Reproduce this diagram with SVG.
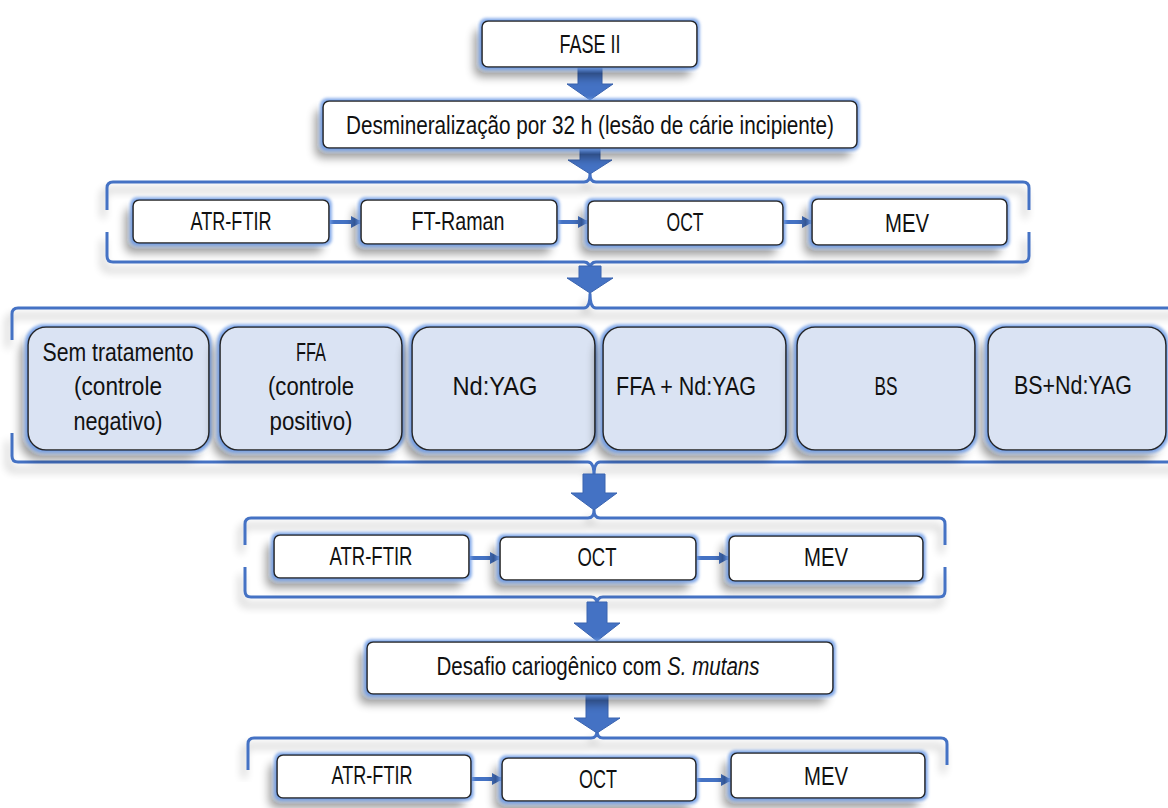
<svg xmlns="http://www.w3.org/2000/svg" width="1168" height="808" viewBox="0 0 1168 808">
<defs>
<style>
.box{fill:#fff;stroke:#262626;stroke-width:1.6}
.grp{fill:#dae3f3;stroke:#262626;stroke-width:1.6}
.t{font-family:"Liberation Sans",Arial,sans-serif;font-size:26px;fill:#111;text-anchor:middle}
.br{fill:none;stroke:#4472c4;stroke-width:3;stroke-linejoin:round}
.blk{fill:#4472c4;stroke:#3a64b0;stroke-width:1}
.con{stroke:#4472c4;stroke-width:4;fill:none}
</style>
<filter id="sh" x="-20%" y="-40%" width="140%" height="190%">
<feGaussianBlur in="SourceAlpha" stdDeviation="5" result="b"/>
<feOffset in="b" dx="-7" dy="9" result="o"/>
<feComponentTransfer in="o" result="s"><feFuncA type="linear" slope="0.4"/></feComponentTransfer>
<feMorphology in="SourceAlpha" operator="dilate" radius="2" result="d"/>
<feGaussianBlur in="d" stdDeviation="1.8" result="db"/>
<feFlood flood-color="#6d9be6" flood-opacity="0.85"/>
<feComposite in2="db" operator="in" result="glow"/>
<feMerge><feMergeNode in="s"/><feMergeNode in="glow"/><feMergeNode in="SourceGraphic"/></feMerge>
</filter>
<filter id="bsh" x="-5%" y="-20%" width="110%" height="150%">
<feGaussianBlur in="SourceAlpha" stdDeviation="4" result="b"/>
<feOffset in="b" dx="-4" dy="8" result="o"/>
<feComponentTransfer in="o" result="s"><feFuncA type="linear" slope="0.3"/></feComponentTransfer>
<feMerge><feMergeNode in="s"/><feMergeNode in="SourceGraphic"/></feMerge>
</filter>
<marker id="ah" markerUnits="userSpaceOnUse" markerWidth="11" markerHeight="12" refX="10" refY="6" orient="auto">
<path d="M0,0 L11,6 L0,12 z" fill="#4472c4"/>
</marker>
</defs>

<g id="brackets">
<path class="br" filter="url(#bsh)" d="M107,210 V188 Q107,182 113,182 H584 Q590,182 590,174 Q590,182 596,182 H1023 Q1029,182 1029,188 V210 M107,232 V256 Q107,262 113,262 H584 Q590,262 590,270 Q590,262 596,262 H1023 Q1029,262 1029,256 V232"/>
<path class="br" filter="url(#bsh)" d="M12,340 V314 Q12,308 18,308 H584 Q590,308 590,294 Q590,308 596,308 H1180 M12,433 V456 Q12,462 18,462 H588 Q594,462 594,476 Q594,462 600,462 H1180"/>
<path class="br" filter="url(#bsh)" d="M245,545 V524 Q245,518 251,518 H588 Q594,518 594,510 Q594,518 600,518 H939 Q945,518 945,524 V545 M245,567 V591 Q245,597 251,597 H591 Q597,597 597,604 Q597,597 603,597 H939 Q945,597 945,591 V567"/>
<path class="br" filter="url(#bsh)" d="M248,770 V744 Q248,738 254,738 H591 Q597,738 597,731 Q597,738 603,738 H941 Q947,738 947,744 V765"/>
</g>

<g id="connectors">
<polygon class="blk" points="578,68 602,68 602,84 613,84 590,100 567,84 578,84"/>
<polygon class="blk" points="580,149 600,149 600,160 612,160 590,174 568,160 580,160"/>
<polygon class="blk" points="579,266 601,266 601,278 613,278 590,293 567,278 579,278"/>
<polygon class="blk" points="583,474 605,474 605,493 617,493 594,510 571,493 583,493"/>
<polygon class="blk" points="587,602 607,602 607,623 620,623 597,641 574,623 587,623"/>
<polygon class="blk" points="586,695 608,695 608,718 620,718 597,733 574,718 586,718"/>
<line class="con" x1="330" y1="222" x2="361" y2="222" marker-end="url(#ah)"/>
<line class="con" x1="558" y1="222" x2="588" y2="222" marker-end="url(#ah)"/>
<line class="con" x1="784" y1="222" x2="812" y2="222" marker-end="url(#ah)"/>
<line class="con" x1="470" y1="558" x2="500" y2="558" marker-end="url(#ah)"/>
<line class="con" x1="697" y1="558" x2="729" y2="558" marker-end="url(#ah)"/>
<line class="con" x1="472" y1="779" x2="502" y2="779" marker-end="url(#ah)"/>
<line class="con" x1="697" y1="780" x2="731" y2="780" marker-end="url(#ah)"/>
</g>

<g id="fase2"><rect class="box" filter="url(#sh)" x="482" y="21" width="215" height="46" rx="6"/><text class="t" x="590" y="53" textLength="61" lengthAdjust="spacingAndGlyphs">FASE II</text></g>
<g id="desmin"><rect class="box" filter="url(#sh)" x="323" y="101" width="534" height="47" rx="6"/><text class="t" x="590" y="134" textLength="488" lengthAdjust="spacingAndGlyphs">Desmineralização por 32 h (lesão de cárie incipiente)</text></g>

<g id="b1-atr"><rect class="box" filter="url(#sh)" x="133" y="200" width="196" height="43" rx="6"/><text class="t" x="231" y="230" textLength="81" lengthAdjust="spacingAndGlyphs">ATR-FTIR</text></g>
<g id="b1-ftraman"><rect class="box" filter="url(#sh)" x="361" y="200" width="196" height="44" rx="6"/><text class="t" x="458" y="230" textLength="93" lengthAdjust="spacingAndGlyphs">FT-Raman</text></g>
<g id="b1-oct"><rect class="box" filter="url(#sh)" x="588" y="201" width="195" height="44" rx="6"/><text class="t" x="685" y="231" textLength="37" lengthAdjust="spacingAndGlyphs">OCT</text></g>
<g id="b1-mev"><rect class="box" filter="url(#sh)" x="812" y="199" width="195" height="46" rx="6"/><text class="t" x="907" y="232" textLength="44" lengthAdjust="spacingAndGlyphs">MEV</text></g>

<g id="g-sem"><rect class="grp" filter="url(#sh)" x="28" y="327" width="181" height="123" rx="18"/><text class="t" x="118" y="361" textLength="151" lengthAdjust="spacingAndGlyphs">Sem tratamento</text><text class="t" x="118" y="395" textLength="88" lengthAdjust="spacingAndGlyphs">(controle</text><text class="t" x="118" y="430" textLength="89" lengthAdjust="spacingAndGlyphs">negativo)</text></g>
<g id="g-ffa"><rect class="grp" filter="url(#sh)" x="220" y="327" width="182" height="123" rx="18"/><text class="t" x="311" y="361" textLength="30" lengthAdjust="spacingAndGlyphs">FFA</text><text class="t" x="311" y="395" textLength="86" lengthAdjust="spacingAndGlyphs">(controle</text><text class="t" x="311" y="430" textLength="83" lengthAdjust="spacingAndGlyphs">positivo)</text></g>
<g id="g-ndyag"><rect class="grp" filter="url(#sh)" x="412" y="327" width="183" height="123" rx="18"/><text class="t" x="495" y="395" textLength="85" lengthAdjust="spacingAndGlyphs">Nd:YAG</text></g>
<g id="g-ffandyag"><rect class="grp" filter="url(#sh)" x="603" y="327" width="183" height="123" rx="18"/><text class="t" x="686" y="395" textLength="140" lengthAdjust="spacingAndGlyphs">FFA + Nd:YAG</text></g>
<g id="g-bs"><rect class="grp" filter="url(#sh)" x="797" y="327" width="178" height="123" rx="18"/><text class="t" x="886" y="395" textLength="23" lengthAdjust="spacingAndGlyphs">BS</text></g>
<g id="g-bsndyag"><rect class="grp" filter="url(#sh)" x="988" y="327" width="178" height="123" rx="18"/><text class="t" x="1073" y="394" textLength="118" lengthAdjust="spacingAndGlyphs">BS+Nd:YAG</text></g>

<g id="b3-atr"><rect class="box" filter="url(#sh)" x="274" y="535" width="195" height="43" rx="6"/><text class="t" x="371" y="565" textLength="83" lengthAdjust="spacingAndGlyphs">ATR-FTIR</text></g>
<g id="b3-oct"><rect class="box" filter="url(#sh)" x="500" y="537" width="196" height="43" rx="6"/><text class="t" x="597" y="566" textLength="39" lengthAdjust="spacingAndGlyphs">OCT</text></g>
<g id="b3-mev"><rect class="box" filter="url(#sh)" x="729" y="536" width="194" height="45" rx="6"/><text class="t" x="826" y="566" textLength="44" lengthAdjust="spacingAndGlyphs">MEV</text></g>

<g id="desafio"><rect class="box" filter="url(#sh)" x="367" y="642" width="466" height="52" rx="6"/><text class="t" x="598" y="675" textLength="323" lengthAdjust="spacingAndGlyphs">Desafio cariogênico com <tspan font-style="italic">S. mutans</tspan></text></g>

<g id="b4-atr"><rect class="box" filter="url(#sh)" x="277" y="755" width="194" height="43" rx="6"/><text class="t" x="372" y="784" textLength="81" lengthAdjust="spacingAndGlyphs">ATR-FTIR</text></g>
<g id="b4-oct"><rect class="box" filter="url(#sh)" x="502" y="758" width="194" height="43" rx="6"/><text class="t" x="598" y="788" textLength="38" lengthAdjust="spacingAndGlyphs">OCT</text></g>
<g id="b4-mev"><rect class="box" filter="url(#sh)" x="731" y="753" width="194" height="45" rx="6"/><text class="t" x="826" y="785" textLength="44" lengthAdjust="spacingAndGlyphs">MEV</text></g>
</svg>
